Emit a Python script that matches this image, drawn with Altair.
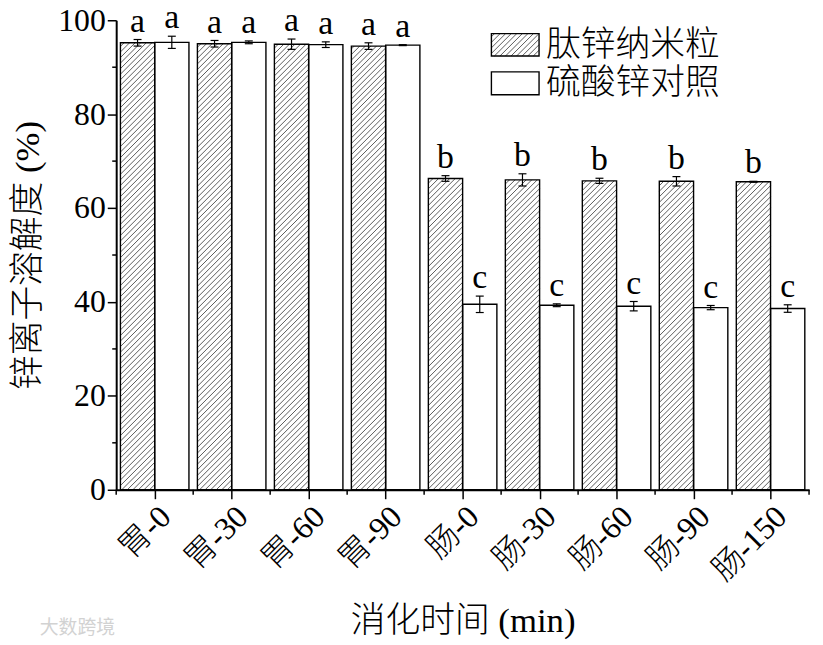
import json
import math
import pandas as pd
import altair as alt

# ---------------- data ----------------
categories = ["胃-0", "胃-30", "胃-60", "胃-90", "肠-0", "肠-30", "肠-60", "肠-90", "肠-150"]
peptide_zn = [95.2, 95.0, 94.9, 94.5, 66.3, 66.0, 65.8, 65.7, 65.6]
peptide_err = [0.7, 0.7, 1.1, 0.7, 0.6, 1.3, 0.55, 1.0, 0.1]
znso4 = [95.3, 95.3, 94.8, 94.7, 39.5, 39.3, 39.1, 38.8, 38.6]
znso4_err = [1.3, 0.3, 0.6, 0.1, 1.75, 0.3, 1.0, 0.45, 0.8]
peptide_letters = ["a", "a", "a", "a", "b", "b", "b", "b", "b"]
znso4_letters = ["a", "a", "a", "a", "c", "c", "c", "c", "c"]
series = ["肽锌纳米粒", "硫酸锌对照"]
y_major = [0, 20, 40, 60, 80, 100]
y_minor = [10, 30, 50, 70, 90]
x_title = "消化时间 (min)"
y_title = "锌离子溶解度 (%)"

# ---------------- layout ----------------
W, H = 698, 473
FONT = "Liberation Serif, Noto Sans CJK SC"
n = len(categories)
px_x = W / n          # pixels per x unit
px_y = H / 100.0      # pixels per y unit
bar_w = 0.445
cap = 4.0 / px_x
hatch_step = 5.6      # px, horizontal spacing of hatch lines


def hatch_segments(Xa, Xb, Ya, Yb):
    """45-degree hatch lines clipped to a pixel box (y measured upward)."""
    out = []
    k0 = math.floor((Xa - Yb) / hatch_step)
    k1 = math.ceil((Xb - Ya) / hatch_step)
    for k in range(k0, k1 + 1):
        c = k * hatch_step
        lo = max(Xa, c + Ya)
        hi = min(Xb, c + Yb)
        if hi - lo > 0.3:
            out.append(dict(hx=lo / px_x - 0.5, hy=(lo - c) / px_y,
                            hx2=hi / px_x - 0.5, hy2=(hi - c) / px_y))
    return out


rows = []
for i, c in enumerate(categories):
    for s, vals, errs, lets, x0, x1 in [
        (series[0], peptide_zn, peptide_err, peptide_letters, i - bar_w, i),
        (series[1], znso4, znso4_err, znso4_letters, i, i + bar_w),
    ]:
        v, e = vals[i], errs[i]
        xc = (x0 + x1) / 2
        rows.append(dict(cat=c, series=s, x0=x0, x1=x1, xc=xc, cl=xc - cap, cr=xc + cap,
                         v=v, base=0.0, lo=v - e, hi=v + e, letter=lets[i]))
bars = pd.DataFrame(rows)

hrows = []
for r in rows:
    if r["series"] == series[0]:
        hrows += hatch_segments((r["x0"] + 0.5) * px_x, (r["x1"] + 0.5) * px_x,
                                0.0, r["v"] * px_y)

# ---- manual legend (pixel layout relative to the plot's top-left) ----
sw_x0, sw_x1 = 378, 426
sw_rows = [(13.5, 36.0), (52.0, 75.0)]
leg_rows = []
for lab, (t, b) in zip(series, sw_rows):
    leg_rows.append(dict(label=lab, lx0=sw_x0 / px_x - 0.5, lx1=sw_x1 / px_x - 0.5,
                         ly0=(H - b) / px_y, ly1=(H - t) / px_y,
                         tx=(sw_x1 + 7) / px_x - 0.5, ty=(H - (t + b) / 2) / px_y))
legend_df = pd.DataFrame(leg_rows)
t, b = sw_rows[0]
hrows += hatch_segments(sw_x0, sw_x1, H - b, H - t)
hatch = pd.DataFrame(hrows)

xscale = alt.Scale(domain=[-0.5, n - 0.5], nice=False, zero=False)
yscale = alt.Scale(domain=[0, 100], nice=False)
label_expr = json.dumps(categories, ensure_ascii=False) + "[datum.value]"


def X(field):
    return alt.X(field, scale=xscale, title=x_title)


def Y(field):
    return alt.Y(field, scale=yscale, title=y_title)


base = alt.Chart(bars)

bar_fill = base.mark_rect(fill="white", strokeWidth=0).encode(
    x=alt.X("x0:Q", scale=xscale, title=x_title,
            axis=alt.Axis(values=list(range(n)), labelExpr=label_expr, labelAngle=-45,
                          labelOverlap=False, labelPadding=2, titlePadding=18)),
    x2="x1:Q",
    y=alt.Y("v:Q", scale=yscale, title=y_title,
            axis=alt.Axis(values=y_major, titlePadding=12, labelPadding=2)),
    y2="base:Q",
)

legend_fill = alt.Chart(legend_df).mark_rect(fill="white", strokeWidth=0).encode(
    x=X("lx0:Q"), x2="lx1:Q", y=Y("ly0:Q"), y2="ly1:Q",
)

hatch_layer = alt.Chart(hatch).mark_rule(stroke="#333333", strokeWidth=0.8).encode(
    x=X("hx:Q"), x2="hx2:Q", y=Y("hy:Q"), y2="hy2:Q",
)

bar_outline = base.mark_rect(fillOpacity=0, stroke="black", strokeWidth=1.4).encode(
    x=X("x0:Q"), x2="x1:Q", y=Y("v:Q"), y2="base:Q",
)

legend_outline = alt.Chart(legend_df).mark_rect(fillOpacity=0, stroke="black",
                                                strokeWidth=1.4).encode(
    x=X("lx0:Q"), x2="lx1:Q", y=Y("ly0:Q"), y2="ly1:Q",
)

legend_text = alt.Chart(legend_df).mark_text(
    font=FONT, fontSize=35, fontWeight=300, align="left", baseline="middle", color="black"
).encode(x=X("tx:Q"), y=Y("ty:Q"), text="label:N")

err_v = base.mark_rule(color="black", strokeWidth=1.2).encode(
    x=X("xc:Q"), y=Y("lo:Q"), y2="hi:Q",
)
err_top = base.mark_rule(color="black", strokeWidth=1.2).encode(
    x=X("cl:Q"), x2="cr:Q", y=Y("hi:Q"),
)
err_bot = base.mark_rule(color="black", strokeWidth=1.2).encode(
    x=X("cl:Q"), x2="cr:Q", y=Y("lo:Q"),
)

letters = base.mark_text(font="Liberation Serif", fontSize=34, baseline="alphabetic",
                         dy=-8, color="black").encode(
    x=X("xc:Q"), y=Y("hi:Q"), text="letter:N",
)

# minor ticks
ymin_df = pd.DataFrame({"ym": y_minor})
y_minor_ticks = alt.Chart(ymin_df).mark_rule(color="black", strokeWidth=1.5).encode(
    y=Y("ym:Q"), x=alt.value(0), x2=alt.value(-4),
)
xb_df = pd.DataFrame({"xb": [i - 0.5 for i in range(n + 1)]})
x_minor_ticks = alt.Chart(xb_df).mark_rule(color="black", strokeWidth=1.5).encode(
    x=X("xb:Q"), y=alt.value(H), y2=alt.value(H + 5),
)

watermark = alt.Chart(pd.DataFrame({"t": ["大数跨境"]})).mark_text(
    font="Noto Sans CJK SC", fontSize=19, color="#d2d2d2", align="left", baseline="middle"
).encode(x=alt.value(-77), y=alt.value(612), text="t:N")

chart = alt.layer(
    bar_fill, legend_fill, hatch_layer, bar_outline, legend_outline, legend_text,
    err_v, err_top, err_bot, letters, y_minor_ticks, x_minor_ticks, watermark,
).properties(
    width=W, height=H,
    background="white",
    autosize=alt.AutoSizeParams(type="none"),
    padding={"left": 109, "top": 10, "right": 6, "bottom": 150},
).configure_view(stroke=None).configure_axis(
    grid=False, domainColor="black", domainWidth=2, tickColor="black", tickWidth=1.5,
    tickSize=9, labelFont=FONT, labelFontSize=32, labelFontWeight=300, labelColor="black",
    titleFont=FONT, titleFontSize=35, titleFontWeight=300, titleColor="black",
)

chart.save("out.html", embed_options={"renderer": "svg", "actions": False})
